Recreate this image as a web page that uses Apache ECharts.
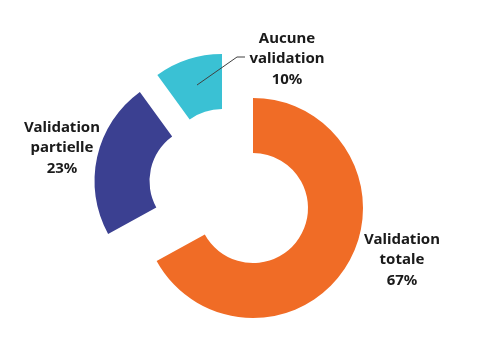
<!DOCTYPE html>
<html>
<head>
<meta charset="utf-8">
<script src="https://cdn.jsdelivr.net/npm/echarts@6/dist/echarts.min.js"></script>
<style>html,body{margin:0;padding:0;background:#fff;}#c{width:480px;height:360px;}</style>
</head>
<body>
<div id="c"></div>
<script>
const categories = ["Validation totale", "Validation partielle", "Aucune validation"];
const values = [67, 23, 10];
const colors = ["#F06C26", "#3B4091", "#3AC1D4"];

// layout (one pie per slice so exploded slices can be shifted)
const sliceCenters = [[253, 208], [204.5, 181], [222, 164]];
const labelSpots = [[402, 260], [62, 148], [287, 59]];

const chart = echarts.init(document.getElementById('c'), null, {renderer: 'canvas'});

const sliceSeries = categories.map((_, k) => ({
  type: 'pie',
  z: 2,
  center: sliceCenters[k],
  radius: [55, 110],
  startAngle: 90,
  clockwise: true,
  silent: true,
  emphasis: {disabled: true},
  label: {show: false},
  labelLine: {show: false},
  data: categories.map((name, i) => ({
    name: name,
    value: values[i],
    itemStyle: {color: i === k ? colors[i] : 'rgba(0,0,0,0)'}
  }))
}));

const labelSeries = {
  type: 'pie',
  z: 5,
  center: sliceCenters[0],
  radius: [55, 110],
  startAngle: 90,
  clockwise: true,
  silent: true,
  emphasis: {disabled: true},
  itemStyle: {color: 'rgba(0,0,0,0)'},
  label: {
    show: true,
    position: 'outside',
    overflow: 'none',
    formatter: p => p.name.replace(' ', '\n') + '\n' + Math.round(p.percent) + '%',
    fontFamily: 'Noto Sans',
    fontWeight: 'bold',
    fontSize: 15,
    lineHeight: 20.5,
    color: '#1a1a1a',
    align: 'center'
  },
  labelLine: {show: false},
  labelLayout: function (params) {
    const k = params.dataIndex;
    const s = labelSpots[k];
    const out = {x: s[0], y: s[1], align: 'center', verticalAlign: 'middle'};
    if (k === 2) out.labelLinePoints = [[197, 85], [237, 57], [245, 57]];
    return out;
  },
  data: categories.map((name, i) => ({
    name: name,
    value: values[i],
    labelLine: i === 2 ? {show: true, lineStyle: {color: '#404040', width: 1}} : {show: false}
  }))
};

chart.setOption({animation: false, backgroundColor: '#ffffff', series: sliceSeries.concat([labelSeries])});
</script>
</body>
</html>
